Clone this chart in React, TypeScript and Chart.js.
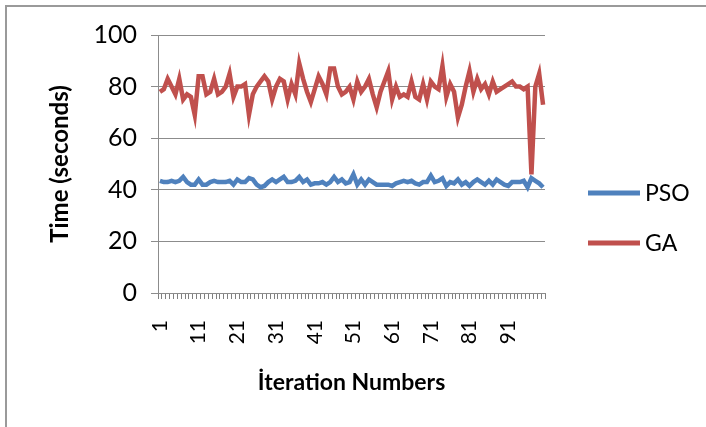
import React, { useEffect, useRef } from "react";
import { Chart, registerables } from "chart.js";

Chart.register(...registerables);

const ITERATIONS: string[] = Array.from({ length: 100 }, (_, i) => String(i + 1));
const X_TICK_LABELS: string[] = ["1", "11", "21", "31", "41", "51", "61", "71", "81", "91"];
const Y_TICKS: number[] = [0, 20, 40, 60, 80, 100];

const PSO: number[] = [
  43.5, 43, 43, 43.5, 43, 43.5, 45, 43, 42, 42,
  44, 42, 42, 43, 43.5, 43, 43, 43, 43.5, 42,
  44, 43, 43, 44.5, 44, 42, 41, 41.5, 43, 44,
  43, 44, 45, 43, 43, 43.5, 45, 43, 44, 42,
  42.5, 42.5, 43, 42, 43, 45, 43, 44, 42.5, 43,
  46, 42, 44, 42, 44, 43, 42, 42, 42, 42,
  41.5, 42.5, 43, 43.5, 43, 43.5, 42.5, 42, 43, 43,
  45.5, 43, 43.5, 44.5, 41.5, 43, 42.5, 44, 42, 43,
  41.5, 43, 44, 43, 42, 43.5, 42, 44, 43, 42,
  41.5, 43, 43, 43, 43.5, 41, 44.5, 43.5, 42.5, 41,
];

const GA: number[] = [
  78, 79, 83, 80, 77, 83, 75, 77, 76, 69,
  84, 84, 77, 78, 83, 77, 78, 80, 85, 76,
  80, 80, 81, 69, 77, 80, 82, 84, 82, 75,
  80, 83, 82, 75, 81, 77, 89, 83, 78, 74,
  79, 84, 81, 77, 87, 87, 80, 77, 78, 80,
  75, 82, 78, 80, 83, 77, 72, 78, 82, 86,
  75, 80, 76, 77, 76, 82, 76, 75, 81, 75,
  82, 80, 79, 88, 76, 81, 78, 68, 73, 80,
  86, 78, 83, 79, 81, 77, 82, 78, 79, 80,
  81, 82, 80, 80, 79, 80, 46, 80, 85, 73,
];

const SERIES_NAMES: string[] = ["PSO", "GA"];
const SERIES_COLORS: string[] = ["#4F81BD", "#C0504D"];

const FONT = "Lato, 'Open Sans', sans-serif";
const GRID = "#8c8c8c";

const sideLegend = {
  id: "sideLegend",
  afterDraw(chart: any) {
    const { ctx, chartArea } = chart;
    const cy = (chartArea.top + chartArea.bottom) / 2;
    const x0 = chartArea.right + 43;
    ctx.save();
    chart.data.datasets.forEach((ds: any, i: number) => {
      const y = cy + 29 + i * 50;
      ctx.strokeStyle = ds.borderColor;
      ctx.lineWidth = 5;
      ctx.lineCap = "butt";
      ctx.beginPath();
      ctx.moveTo(x0, y);
      ctx.lineTo(x0 + 52, y);
      ctx.stroke();
      ctx.fillStyle = "#000";
      ctx.font = `23px ${FONT}`;
      ctx.textBaseline = "middle";
      ctx.textAlign = "left";
      ctx.fillText(ds.label, x0 + 57, y + 1);
    });
    ctx.restore();
  },
};

export default function App() {
  const ref = useRef<HTMLCanvasElement | null>(null);

  useEffect(() => {
    if (!ref.current) return;
    const chart = new Chart(ref.current, {
      type: "line",
      data: {
        labels: ITERATIONS,
        datasets: [
          {
            label: SERIES_NAMES[0],
            data: PSO,
            borderColor: SERIES_COLORS[0],
            backgroundColor: SERIES_COLORS[0],
            borderWidth: 4.5,
            pointRadius: 0,
            tension: 0,
            order: 1,
          },
          {
            label: SERIES_NAMES[1],
            data: GA,
            borderColor: SERIES_COLORS[1],
            backgroundColor: SERIES_COLORS[1],
            borderWidth: 4.5,
            pointRadius: 0,
            tension: 0,
            order: 0,
          },
        ],
      },
      options: {
        responsive: false,
        animation: false,
        devicePixelRatio: 1,
        layout: {
          autoPadding: false,
          padding: { left: 0, top: 35, right: 161, bottom: 0 },
        },
        plugins: {
          legend: { display: false },
          tooltip: { enabled: false },
        },
        scales: {
          x: {
            type: "category",
            offset: true,
            grid: {
              display: true,
              drawOnChartArea: false,
              drawTicks: true,
              tickLength: 6,
              color: "#808080",
              offset: true,
            },
            border: { display: true, color: GRID, width: 1 },
            ticks: {
              autoSkip: false,
              minRotation: 90,
              maxRotation: 90,
              padding: 21,
              color: "#000",
              font: { family: FONT, size: 21 },
              callback: function (this: any, value: any) {
                const lbl = this.getLabelForValue(value);
                return X_TICK_LABELS.includes(lbl) ? lbl : "";
              },
            },
            title: {
              display: true,
              text: "İteration Numbers",
              color: "#000",
              font: { family: FONT, size: 23, weight: "bold" },
              padding: { top: 0, bottom: 31 },
            },
            afterFit: (s: any) => {
              s.height = 134;
            },
          },
          y: {
            min: Y_TICKS[0],
            max: Y_TICKS[Y_TICKS.length - 1],
            grid: {
              color: GRID,
              drawTicks: true,
              tickLength: 7,
            },
            border: { display: true, color: GRID, width: 1 },
            ticks: {
              stepSize: 20,
              padding: 14,
              color: "#000",
              font: { family: FONT, size: 25 },
            },
            afterBuildTicks: (s: any) => {
              s.ticks = Y_TICKS.map((v) => ({ value: v }));
            },
            title: {
              display: true,
              text: "Time (seconds)",
              color: "#000",
              font: { family: FONT, size: 24, weight: "bold" },
              padding: { top: 46, bottom: 0 },
            },
            afterFit: (s: any) => {
              s.width = 158;
            },
          },
        },
      },
      plugins: [sideLegend],
    });
    return () => chart.destroy();
  }, []);

  return (
    <div
      style={{
        position: "absolute",
        left: 0,
        top: 0,
        width: 706,
        height: 427,
        overflow: "hidden",
        background: "#fff",
      }}
    >
      <div
        style={{
          position: "absolute",
          left: 5,
          top: 5,
          width: 760,
          height: 480,
          border: "2px solid #9a9a9a",
          boxSizing: "border-box",
        }}
      />
      <canvas
        ref={ref}
        width={706}
        height={427}
        style={{ position: "absolute", left: 0, top: 0, width: 706, height: 427 }}
      />
    </div>
  );
}
